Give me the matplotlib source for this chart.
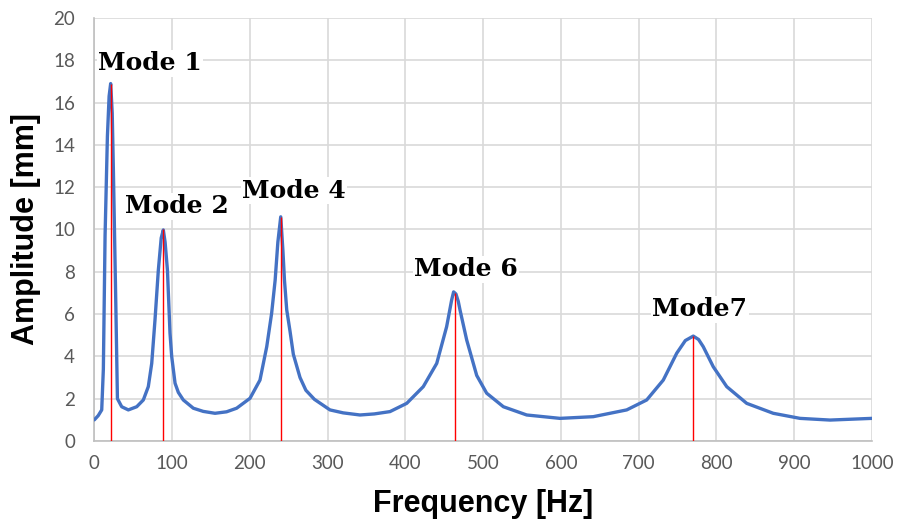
import matplotlib
matplotlib.use("Agg")
import matplotlib.pyplot as plt

# Frequency response
freq = [0, 5, 9.5, 11.6, 13.8, 16.8, 19, 21, 23, 24.5, 27.6, 29.7, 35.2, 43.7, 54.5, 63,
        69.4, 73.8, 78, 82.3, 86, 88.7, 91, 94, 97.3, 99.5, 103.8, 108, 114.4, 127.3,
        140, 155.2, 170, 183, 200.2, 213, 221.7, 228, 232.5, 236, 239.7, 242.5, 244.5,
        247.4, 251.6, 255.9, 264.5, 272, 283, 303, 320, 341.6, 360, 380.2, 401.7, 423,
        440.3, 453, 459.5, 462, 465, 468, 470.2, 478.8, 491.7, 504.5, 526, 556, 598.8,
        641.6, 684.6, 710.3, 731.6, 748.9, 760, 770.2, 777, 783, 795.9, 813.2, 838.9,
        873, 907.4, 946, 1000]
amp = [1.0, 1.2, 1.47, 3.4, 9.7, 14.4, 16.3, 16.9, 15.5, 12.8, 6.5, 2.0, 1.62, 1.47, 1.62,
       1.94, 2.57, 3.67, 5.72, 8.08, 9.6, 9.98, 9.4, 8.08, 5.1, 3.99, 2.73, 2.3, 1.94,
       1.55, 1.4, 1.31, 1.38, 1.55, 2.02, 2.88, 4.46, 6.04, 7.6, 9.4, 10.6, 9.0, 7.6,
       6.2, 5.2, 4.1, 3.0, 2.4, 1.97, 1.47, 1.33, 1.23, 1.28, 1.39, 1.78, 2.57,
       3.67, 5.4, 6.67, 7.05, 6.95, 6.6, 6.2, 4.78, 3.1, 2.26, 1.62, 1.23, 1.07,
       1.15, 1.47, 1.94, 2.88, 4.15, 4.75, 4.96, 4.8, 4.46, 3.51, 2.57, 1.78,
       1.31, 1.07, 0.99, 1.07]

# Mode markers (red lines) and labels
mode_freq = [21, 88, 240, 464, 770]
mode_amp = [16.9, 10.0, 10.6, 7.0, 4.95]
mode_names = ["Mode 1", "Mode 2", "Mode 4", "Mode 6", "Mode7"]
label_x = [71.6, 106.3, 256.8, 478, 778.8]
label_y = [17.87, 11.11, 11.82, 8.13, 6.24]

fig = plt.figure(figsize=(9.01, 5.26), dpi=100)
ax = fig.add_axes([0.1047, 0.1616, 0.8631, 0.8042])

ax.plot(freq, amp, color="#4472C4", lw=2.4, zorder=3,
        solid_joinstyle="round", solid_capstyle="round")
ax.vlines(mode_freq, 0, mode_amp, color="#FF0000", lw=1.0, zorder=4)

for name, x, y in zip(mode_names, label_x, label_y):
    ax.text(x, y, name, ha="center", va="center", fontsize=18, fontweight="bold",
            family="DejaVu Serif", color="black", zorder=5,
            bbox=dict(facecolor="white", edgecolor="none", pad=1))

ax.set_xlim(0, 1000)
ax.set_ylim(0, 20)
ax.set_xticks(range(0, 1001, 100))
ax.set_yticks(range(0, 21, 2))
ax.grid(True, color="#D9D9D9", lw=1.2)
ax.set_axisbelow(True)
for s in ["top", "right"]:
    ax.spines[s].set_visible(False)
for s in ["left", "bottom"]:
    ax.spines[s].set_color("#BFBFBF")
    ax.spines[s].set_linewidth(1.2)
ax.tick_params(length=0, colors="#595959", labelsize=13.5)
ax.tick_params(axis="y", pad=14)
ax.tick_params(axis="x", pad=10)
for lab in ax.get_xticklabels() + ax.get_yticklabels():
    lab.set_family("Lato")

ax.set_xlabel("Frequency [Hz]", fontsize=22, fontweight="bold", family="Liberation Sans",
              labelpad=12)
ax.set_ylabel("Amplitude [mm]", fontsize=22, fontweight="bold", family="Liberation Sans",
              labelpad=9)

fig.savefig("out.png", dpi=100)
